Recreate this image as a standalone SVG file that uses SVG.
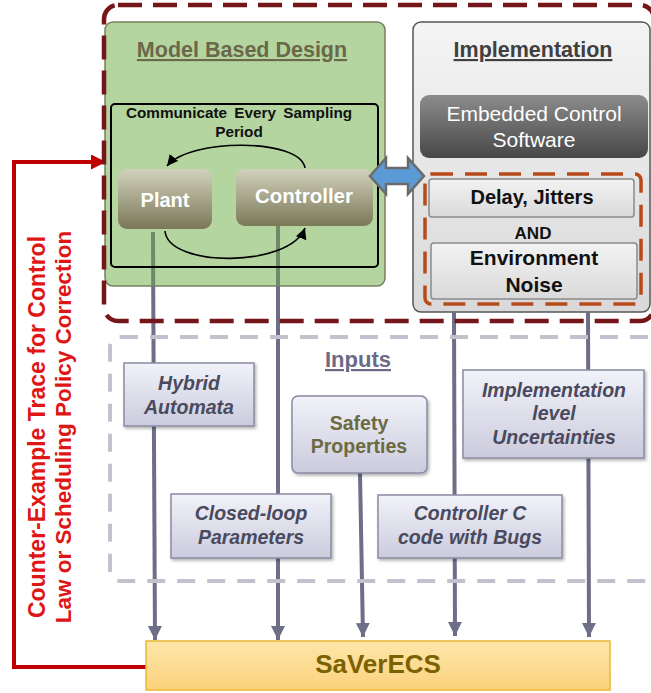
<svg xmlns="http://www.w3.org/2000/svg" width="651" height="693" viewBox="0 0 651 693">
<defs>
<linearGradient id="gPlant" x1="0" y1="0" x2="0" y2="1"><stop offset="0" stop-color="#d2d2bc"/><stop offset="1" stop-color="#7b7858"/></linearGradient>
<linearGradient id="gEmbed" x1="0" y1="0" x2="0" y2="1"><stop offset="0" stop-color="#8c8c8c"/><stop offset="1" stop-color="#474747"/></linearGradient>
<linearGradient id="gImpl" x1="0" y1="0" x2="0" y2="1"><stop offset="0" stop-color="#f4f4f4"/><stop offset="1" stop-color="#d9d9d9"/></linearGradient>
<linearGradient id="gIn" x1="0" y1="0" x2="0" y2="1"><stop offset="0" stop-color="#f2f2fa"/><stop offset="1" stop-color="#cbcbdd"/></linearGradient>
<linearGradient id="gSav" x1="0" y1="0" x2="0" y2="1"><stop offset="0" stop-color="#fee6ab"/><stop offset="1" stop-color="#fcd27c"/></linearGradient>
<linearGradient id="gDel" x1="0" y1="0" x2="0" y2="1"><stop offset="0" stop-color="#f2f2f2"/><stop offset="1" stop-color="#dadada"/></linearGradient>
<filter id="sh" x="-10%" y="-10%" width="130%" height="130%"><feDropShadow dx="1.5" dy="2" stdDeviation="1.5" flood-color="#000" flood-opacity="0.3"/></filter>
<marker id="ag" viewBox="0 0 14 14" refX="14" refY="7" markerWidth="14" markerHeight="14" markerUnits="userSpaceOnUse" orient="auto"><path d="M0,0 L14,7 L0,14 z" fill="#6e6e88"/></marker>
<marker id="ar" viewBox="0 0 14 14" refX="14" refY="7" markerWidth="15" markerHeight="15" markerUnits="userSpaceOnUse" orient="auto"><path d="M0,0 L14,7 L0,14 z" fill="#c00000"/></marker>
<marker id="ab" viewBox="0 0 10 10" refX="10" refY="5" markerWidth="11" markerHeight="11" markerUnits="userSpaceOnUse" orient="auto"><path d="M0,0 L10,5 L0,10 z" fill="#000"/></marker>
</defs>
<style>
text{font-family:"Liberation Sans",Arial,sans-serif;font-weight:bold;text-anchor:middle}
.title{font-size:21.5px;text-decoration:underline}
.conn{stroke:#6e6e88;stroke-width:4;fill:none}
.connG{stroke:#6f8a66;stroke-width:4;fill:none}
.inbox{fill:url(#gIn);stroke:#8a8aa2;stroke-width:1.5;filter:url(#sh)}
.intext{font-size:19.5px;font-style:italic;fill:#4a4a5e}
.wtext{fill:#ffffff}
.dtext{fill:#111111}
</style>

<g id="model-based-design">
<rect x="105" y="22" width="280" height="264" rx="8" fill="#b5d5a0" stroke="#75805c" stroke-width="1.5"/>
<text class="title" x="242" y="57" fill="#6a6848">Model Based Design</text>
</g>

<g id="implementation">
<rect x="413" y="22" width="237" height="290" rx="8" fill="url(#gImpl)" stroke="#555" stroke-width="1.5"/>
<text class="title" x="533" y="57" fill="#404040">Implementation</text>
</g>

<g id="connectors">
<line class="connG" x1="153" y1="232" x2="153.2" y2="286"/>
<line class="conn" x1="153.2" y1="286" x2="155" y2="640" marker-end="url(#ag)"/>
<line class="connG" x1="278" y1="226" x2="278" y2="286"/>
<line class="conn" x1="278" y1="286" x2="278" y2="640" marker-end="url(#ag)"/>
<line class="conn" x1="360" y1="473" x2="363" y2="637" marker-end="url(#ag)"/>
<line class="conn" x1="454" y1="312" x2="455" y2="636" marker-end="url(#ag)"/>
<line class="conn" x1="588" y1="312" x2="589" y2="637" marker-end="url(#ag)"/>
<path d="M147,667 H14 V162 H106" fill="none" stroke="#c00000" stroke-width="4" marker-end="url(#ar)"/>
</g>

<g id="communicate-loop">
<rect x="111" y="104" width="267" height="163" rx="4" fill="none" stroke="#000" stroke-width="2"/>
<text x="239" y="118" font-size="15.3" fill="#111" word-spacing="3">Communicate Every Sampling</text>
<text x="239" y="137" font-size="15.3" fill="#111">Period</text>
<path d="M305,168 C300,138 190,138 167,166" fill="none" stroke="#000" stroke-width="1.6" marker-end="url(#ab)"/>
<path d="M165,231 C168,268 290,268 305,228" fill="none" stroke="#000" stroke-width="1.6" marker-end="url(#ab)"/>
</g>

<g id="plant">
<rect x="118" y="169" width="94" height="60" rx="9" fill="url(#gPlant)"/>
<text x="165" y="207" font-size="20" class="wtext">Plant</text>
</g>

<g id="controller">
<rect x="236" y="169" width="137" height="57" rx="9" fill="url(#gPlant)"/>
<text x="304" y="203" font-size="20.5" class="wtext">Controller</text>
</g>

<g id="embedded-control-software">
<rect x="420" y="95" width="228" height="63" rx="9" fill="url(#gEmbed)"/>
<text x="534" y="121" font-size="21" style="font-weight:normal" class="wtext">Embedded Control</text>
<text x="534" y="147" font-size="21" style="font-weight:normal" class="wtext">Software</text>
</g>

<g id="uncertainty-group">
<rect x="425" y="174" width="216" height="130" rx="6" fill="none" stroke="#b84a1a" stroke-width="3.5" stroke-dasharray="22 12"/>
<text x="533" y="239" font-size="17" class="dtext">AND</text>
</g>

<g id="delay-jitters">
<rect x="429" y="179" width="205" height="38" rx="3" fill="url(#gDel)" stroke="#8a8a8a" stroke-width="1.5"/>
<text x="532" y="204" font-size="20" class="dtext">Delay, Jitters</text>
</g>

<g id="environment-noise">
<rect x="431" y="243" width="206" height="56" rx="3" fill="url(#gDel)" stroke="#8a8a8a" stroke-width="1.5"/>
<text x="534" y="265" font-size="21" class="dtext">Environment</text>
<text x="534" y="292" font-size="21" class="dtext">Noise</text>
</g>

<g id="link-arrow">
<polygon points="370,176 386,158 386,168 408,168 408,158 424,176 408,194 408,184 386,184 386,194" fill="#5b9bd5" stroke="#6b6b6b" stroke-width="2.5" stroke-linejoin="miter"/>
</g>

<g id="design-frame">
<rect x="104" y="5" width="550" height="316" rx="14" fill="none" stroke="#75161a" stroke-width="4.5" stroke-dasharray="24 11"/>
</g>

<g id="inputs">
<rect x="110" y="337" width="560" height="244" rx="10" fill="none" stroke="#c2c2ce" stroke-width="4" stroke-dasharray="18 12"/>
<text x="358" y="367" font-size="22" fill="#6a6a84" text-decoration="underline">Inputs</text>
</g>

<g id="hybrid-automata">
<rect class="inbox" x="124" y="363" width="130" height="63"/>
<text class="intext" x="189" y="390">Hybrid</text>
<text class="intext" x="189" y="414">Automata</text>
</g>

<g id="safety-properties">
<rect class="inbox" x="292" y="396" width="135" height="77" rx="6"/>
<text x="359" y="430" font-size="19.5" fill="#6b6a40">Safety</text>
<text x="359" y="453" font-size="19.5" fill="#6b6a40">Properties</text>
</g>

<g id="closed-loop-parameters">
<rect class="inbox" x="171" y="494" width="160" height="64"/>
<text class="intext" x="251" y="520">Closed-loop</text>
<text class="intext" x="251" y="544">Parameters</text>
</g>

<g id="controller-c-code">
<rect class="inbox" x="378" y="495" width="184" height="63"/>
<text class="intext" x="470" y="520">Controller C</text>
<text class="intext" x="470" y="544">code with Bugs</text>
</g>

<g id="implementation-uncertainties">
<rect class="inbox" x="463" y="370" width="181" height="88"/>
<text class="intext" x="554" y="397">Implementation</text>
<text class="intext" x="554" y="420">level</text>
<text class="intext" x="554" y="444">Uncertainties</text>
</g>

<g id="saverecs">
<rect x="146" y="641" width="464" height="49" fill="url(#gSav)" stroke="#e8b830" stroke-width="1.5"/>
<text x="378" y="673" font-size="26" fill="#7a6200">SaVerECS</text>
</g>

<g id="feedback-label">
<text transform="translate(37,427) rotate(-90)" font-size="23" fill="#e01515" dy="8">Counter-Example Trace for Control</text>
<text transform="translate(63,427) rotate(-90)" font-size="22.5" fill="#e01515" dy="8">Law or Scheduling Policy Correction</text>
</g>
</svg>
